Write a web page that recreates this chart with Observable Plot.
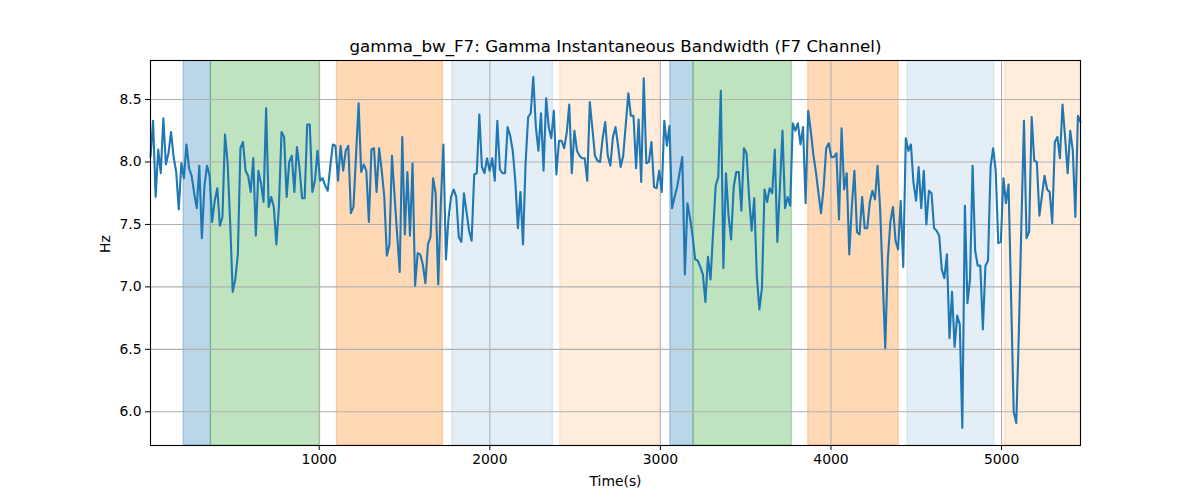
<!DOCTYPE html>
<html><head><meta charset="utf-8">
<script src="https://cdn.jsdelivr.net/npm/d3@7"></script>
<script src="https://cdn.jsdelivr.net/npm/@observablehq/plot@0.6"></script>
<style>body{margin:0;background:#fff;} #chart svg{display:block}</style>
</head><body><div id="chart"></div>
<script>
const title = "gamma_bw_F7: Gamma Instantaneous Bandwidth (F7 Channel)";
const xLabel = "Time(s)";
const yLabel = "Hz";
const xTicks = [1000, 2000, 3000, 4000, 5000];
const yTicks = [6.0, 6.5, 7.0, 7.5, 8.0, 8.5];
const T0 = 11;      // first sample time (s)
const DT = 15.06;   // sample spacing (s)
const bandwidth = [
  8.04,8.33,7.72,8.10,7.91,8.35,7.98,8.07,8.24,8.04,7.92,7.62,7.99,7.87,8.14,7.95,7.89,7.75,7.63,7.97,
  7.39,7.81,7.97,7.89,7.52,7.69,7.79,7.49,7.56,8.22,8.00,7.52,6.96,7.06,7.26,8.11,8.16,7.93,7.89,7.76,
  8.03,7.41,7.93,7.83,7.68,8.43,7.64,7.72,7.64,7.34,7.65,8.24,8.20,7.72,8.00,8.05,7.76,8.12,7.95,7.71,7.71,
  8.30,8.30,7.76,7.85,8.09,7.85,7.87,7.81,7.77,7.97,8.14,8.13,7.85,8.13,7.93,8.09,8.13,7.59,7.64,8.05,
  8.47,7.92,7.98,7.93,7.52,8.10,8.11,7.76,8.11,7.93,7.72,7.25,7.34,8.05,7.73,7.42,7.12,8.20,7.42,7.92,
  7.41,7.99,7.01,7.27,7.26,7.18,7.03,7.34,7.40,7.87,7.75,7.02,7.67,8.14,7.22,7.55,7.72,7.78,7.72,7.40,
  7.36,7.75,7.60,7.45,7.37,7.90,7.91,8.38,7.96,7.91,8.03,7.93,8.03,7.85,8.33,7.94,7.91,7.91,8.28,8.21,
  8.09,7.85,7.47,7.76,7.34,7.99,8.36,8.39,8.68,8.28,8.09,8.39,7.93,8.51,8.28,8.19,8.41,7.90,8.17,8.17,
  8.11,8.23,8.46,7.91,8.25,8.09,8.05,8.03,8.03,7.85,8.48,8.27,8.05,8.01,8.00,8.19,8.32,8.05,7.97,8.20,8.28,
  8.13,7.96,8.05,8.30,8.55,8.37,8.37,7.95,8.34,7.84,8.67,7.99,8.00,8.16,7.80,7.79,7.93,7.76,8.33,8.13,
  8.29,7.63,7.72,7.80,7.92,8.04,7.10,7.67,7.55,7.41,7.22,7.21,7.16,7.10,6.88,7.24,7.06,7.44,7.81,7.88,
  8.57,7.15,7.91,7.57,7.38,7.80,7.92,7.92,7.61,8.11,8.07,7.72,7.45,7.71,7.09,6.82,6.99,7.78,7.68,7.79,
  7.75,8.10,7.36,7.80,8.25,7.63,7.72,7.65,8.31,8.25,8.31,8.14,8.28,7.67,8.41,8.25,8.06,7.92,7.75,7.59,
  7.79,8.11,8.15,8.04,8.04,8.07,7.54,8.27,7.78,7.91,7.26,7.65,7.93,7.44,7.42,7.72,7.47,7.47,7.68,7.77,
  7.70,7.97,7.63,7.07,6.51,7.22,7.52,7.64,7.37,7.30,7.69,7.16,8.19,8.09,8.14,7.83,7.69,7.96,7.63,7.93,
  7.50,7.77,7.75,7.47,7.45,7.41,7.14,7.07,7.26,6.59,6.96,6.52,6.77,6.70,5.87,7.65,6.87,7.06,7.97,7.29,
  7.17,7.17,6.66,7.17,7.21,7.96,8.11,7.93,7.35,7.36,7.87,7.67,7.82,6.90,6.00,5.91,6.63,7.51,8.33,7.39,
  7.44,8.36,8.01,8.00,7.57,7.73,7.89,7.78,7.76,7.51,8.16,8.20,8.03,8.46,8.20,7.91,8.25,8.09,7.56,8.37,8.32
];
const spanStart = [205, 365, 1104, 1780, 2413, 3058, 3194, 3867, 4449, 5021];
const spanEnd   = [365, 1005, 1725, 2370, 2995, 3194, 3771, 4397, 4957, 5470];
const spanColor = ["#1f77b4","#2ca02c","#ff7f0e","#1f77b4","#ff7f0e","#1f77b4","#2ca02c","#ff7f0e","#1f77b4","#ff7f0e"];
const spanAlpha = [0.3, 0.3, 0.3, 0.12, 0.15, 0.3, 0.3, 0.3, 0.12, 0.15];

const series = bandwidth.map((v, i) => ({t: T0 + i * DT, v}));
const spans = spanStart.map((s, i) => {
  const c = d3.color(spanColor[i]); c.opacity = spanAlpha[i];
  return {x1: s, x2: spanEnd[i], col: c.toString()};
});
const xMax = T0 + (bandwidth.length - 1) * DT;

const chart = Plot.plot({
  width: 1200, height: 500,
  marginLeft: 150, marginRight: 120, marginTop: 60, marginBottom: 55,
  style: {fontFamily: "DejaVu Sans", fontSize: "13.9px", color: "#000", background: "#fff"},
  x: {domain: [T0, xMax]},
  y: {domain: [5.73, 8.8125]},
  marks: [
    Plot.rect(spans, {x1: "x1", x2: "x2", fill: "col", stroke: "col", strokeWidth: 1.3, clip: true}),
    Plot.gridX(xTicks, {stroke: "#b0b0b0", strokeOpacity: 1, strokeWidth: 1.1}),
    Plot.gridY(yTicks, {stroke: "#b0b0b0", strokeOpacity: 1, strokeWidth: 1.1}),
    Plot.line(series, {x: "t", y: "v", stroke: "#1f77b4", strokeWidth: 2.1}),
    Plot.frame({stroke: "#000", strokeWidth: 1.1}),
    Plot.axisX(xTicks, {tickSize: 5, tickPadding: 4, label: null, tickFormat: d => String(d), stroke: "#000", fill: "#000"}),
    Plot.axisY(yTicks, {tickSize: 5, tickPadding: 4, label: null, tickFormat: d => d.toFixed(1), stroke: "#000", fill: "#000"}),
    Plot.text([title], {text: d => d, frameAnchor: "top", dy: -14, fontSize: 16.7, fill: "#000", lineAnchor: "middle"}),
    Plot.text([xLabel], {text: d => d, frameAnchor: "bottom", dy: 36, fontSize: 13.9, fill: "#000", lineAnchor: "middle"}),
    Plot.text([yLabel], {text: d => d, frameAnchor: "left", dx: -45, rotate: -90, fontSize: 13.9, fill: "#000", lineAnchor: "middle"})
  ]
});
document.getElementById("chart").appendChild(chart);
</script>
</body></html>
